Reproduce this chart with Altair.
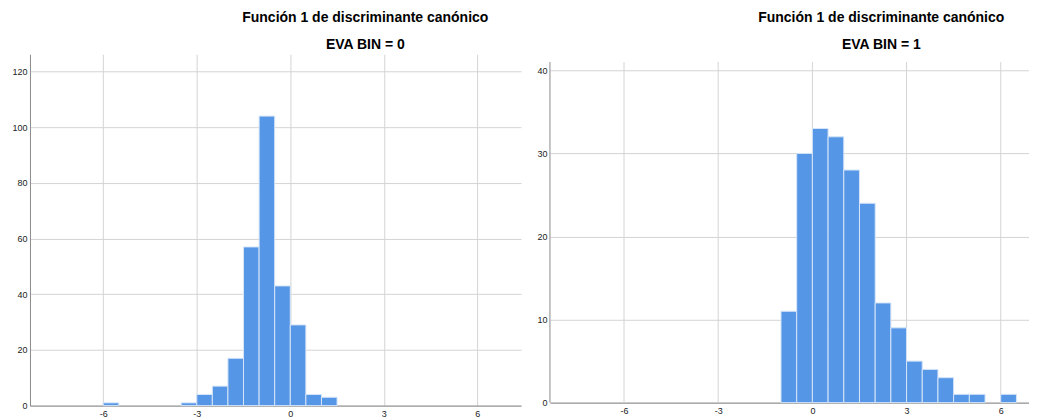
import altair as alt
import pandas as pd

# Panel EVA BIN = 0
bin0_start = [-6.0, -3.5, -3.0, -2.5, -2.0, -1.5, -1.0, -0.5, 0.0, 0.5, 1.0]
bin0_count = [1, 1, 4, 7, 17, 57, 104, 43, 29, 4, 3]

# Panel EVA BIN = 1
bin1_start = [-1.0, -0.5, 0.0, 0.5, 1.0, 1.5, 2.0, 2.5, 3.0, 3.5, 4.0, 4.5, 5.0, 6.0]
bin1_count = [11, 30, 33, 32, 28, 24, 12, 9, 5, 4, 3, 1, 1, 1]

bin_width = 0.5
x_ticks = [-6, -3, 0, 3, 6]
y0_ticks = [0, 20, 40, 60, 80, 100, 120]
y1_ticks = [0, 10, 20, 30, 40]

title_text = "Función 1 de discriminante canónico"
FONT = "Liberation Sans"
BAR = "#5596e6"
GRID = "#d4d4d4"
DOMAIN = "#8a8a8a"


def title(sub, dx):
    return alt.TitleParams(
        text=title_text,
        subtitle=sub,
        font=FONT,
        subtitleFont=FONT,
        fontSize=14,
        subtitleFontSize=14,
        fontWeight="bold",
        subtitleFontWeight="bold",
        color="black",
        subtitleColor="black",
        anchor="middle",
        dx=dx,
        offset=2,
        subtitlePadding=13,
    )


def bars(starts, counts, x_dom, y_dom, yticks, xgrid, ydomain):
    df = pd.DataFrame({"start": starts, "count": counts})
    df["end"] = df["start"] + bin_width
    df["base"] = 0
    return alt.Chart(df).mark_bar(color=BAR, stroke="#d6e5f8", strokeWidth=1).encode(
        x=alt.X(
            "start:Q",
            scale=alt.Scale(domain=x_dom, nice=False, zero=False),
            axis=alt.Axis(
                values=x_ticks,
                title=None,
                ticks=False,
                grid=xgrid,
                labelPadding=4,
                labelExpr="'' + datum.value",
            ),
        ),
        x2="end:Q",
        y=alt.Y(
            "count:Q",
            scale=alt.Scale(domain=y_dom, nice=False),
            axis=alt.Axis(
                values=yticks,
                title=None,
                ticks=False,
                labelPadding=3,
                domain=ydomain,
            ),
        ),
        y2="base:Q",
    )


# left panel
left = bars(bin0_start, bin0_count, [-8.35, 7.4], [0, 126.2], y0_ticks, True, True).properties(
    width=492, height=352, title=title("EVA BIN = 0", 90)
)

# right panel: plot frame (axis line + vertical grid) stops at 41
r_xdom = [-8.36, 6.90]
r_top = 41
grid_df = pd.DataFrame({"x": x_ticks, "y0": [0] * len(x_ticks), "y1": [r_top] * len(x_ticks)})
axis_df = pd.DataFrame({"x": [r_xdom[0]], "y0": [0], "y1": [r_top]})

vgrid = alt.Chart(grid_df).mark_rule(color=GRID, strokeWidth=1).encode(
    x=alt.X("x:Q"), y=alt.Y("y0:Q"), y2="y1:Q"
)
yline = alt.Chart(axis_df).mark_rule(color=DOMAIN, strokeWidth=1).encode(
    x=alt.X("x:Q"), y=alt.Y("y0:Q"), y2="y1:Q"
)
rbars = bars(bin1_start, bin1_count, r_xdom, [0, 41.93], y1_ticks, False, False)

right = alt.layer(vgrid, rbars, yline).properties(
    width=480, height=349, title=title("EVA BIN = 1", 92)
)

chart = (
    alt.hconcat(left, right, spacing=15)
    .properties(padding={"left": 3, "top": 3, "right": 0, "bottom": 0})
    .configure_view(stroke=None)
    .configure_axis(
        labelFont=FONT,
        labelFontSize=9,
        labelColor="#222222",
        gridColor=GRID,
        gridWidth=1,
        domainColor=DOMAIN,
        domainWidth=1,
    )
)

chart.save("out.html", embed_options={"renderer": "svg", "actions": False})
